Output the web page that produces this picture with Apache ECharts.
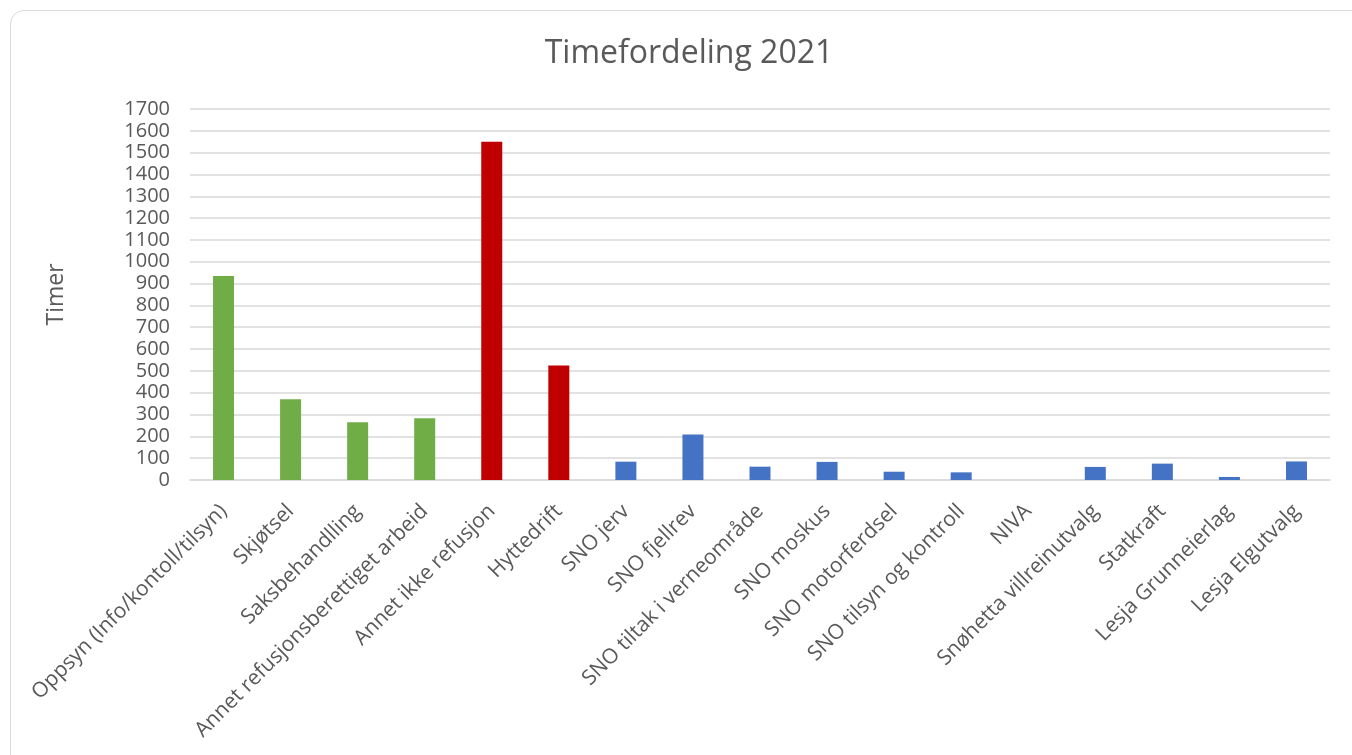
<!DOCTYPE html>
<html>
<head>
<meta charset="utf-8">
<script src="https://cdn.jsdelivr.net/npm/echarts@6/dist/echarts.min.js"></script>
<style>
html,body{margin:0;padding:0;background:#fff;}
#frame{position:absolute;left:10px;top:10px;width:1360px;height:760px;border:1px solid #d9d9d9;border-radius:14px;box-sizing:border-box;}
#chart{position:absolute;left:0;top:0;width:1352px;height:755px;}
</style>
</head>
<body>
<div id="frame"></div>
<div id="chart"></div>
<script>
const categories = ["Oppsyn (Info/kontoll/tilsyn)","Skjøtsel","Saksbehandlling","Annet refusjonsberettiget arbeid","Annet ikke refusjon","Hyttedrift","SNO jerv","SNO fjellrev","SNO tiltak i verneområde","SNO moskus","SNO motorferdsel","SNO tilsyn og kontroll","NIVA","Snøhetta villreinutvalg","Statkraft","Lesja Grunneierlag","Lesja Elgutvalg"];
const values = [935, 370, 265, 283, 1550, 525, 84, 208, 61, 83, 38, 35, 0, 60, 75, 14, 85];
const groups = ["g","g","g","g","r","r","b","b","b","b","b","b","b","b","b","b","b"];
const groupColors = {g:"#70AD47", r:"#C00000", b:"#4472C4"};
const yTicks = [0,100,200,300,400,500,600,700,800,900,1000,1100,1200,1300,1400,1500,1600,1700];

const chart = echarts.init(document.getElementById('chart'));
const font = '"Open Sans", sans-serif';
chart.setOption({
  animation:false,
  title:{text:'Timefordeling 2021', left:684, top:33, textAlign:'center',
    textStyle:{fontFamily:font, fontSize:32, fontWeight:'normal', color:'#595959'}},
  grid:{left:190, right:22, top:109, bottom:275, containLabel:false},
  xAxis:{type:'category', data:categories,
    axisLine:{show:true, lineStyle:{color:'#d9d9d9', width:1.5}},
    axisTick:{show:false},
    axisLabel:{interval:0, rotate:45, fontFamily:font, fontSize:21, color:'#595959', margin:28}},
  yAxis:{type:'value', min:0, max:1700, interval:100,
    name:'Timer', nameLocation:'middle', nameGap:122, nameRotate:90,
    nameTextStyle:{fontFamily:font, fontSize:23, color:'#595959'},
    axisLine:{show:false}, axisTick:{show:false},
    axisLabel:{fontFamily:font, fontSize:20, color:'#595959', margin:20,
      formatter:v=>yTicks.includes(v)?String(v):''},
    splitLine:{lineStyle:{color:'#d9d9d9', width:1.5}}},
  series:[{type:'bar', barWidth:21,
    data:values.map((v,i)=>({value:v, itemStyle:{color:groupColors[groups[i]]}}))}]
});
</script>
</body>
</html>
